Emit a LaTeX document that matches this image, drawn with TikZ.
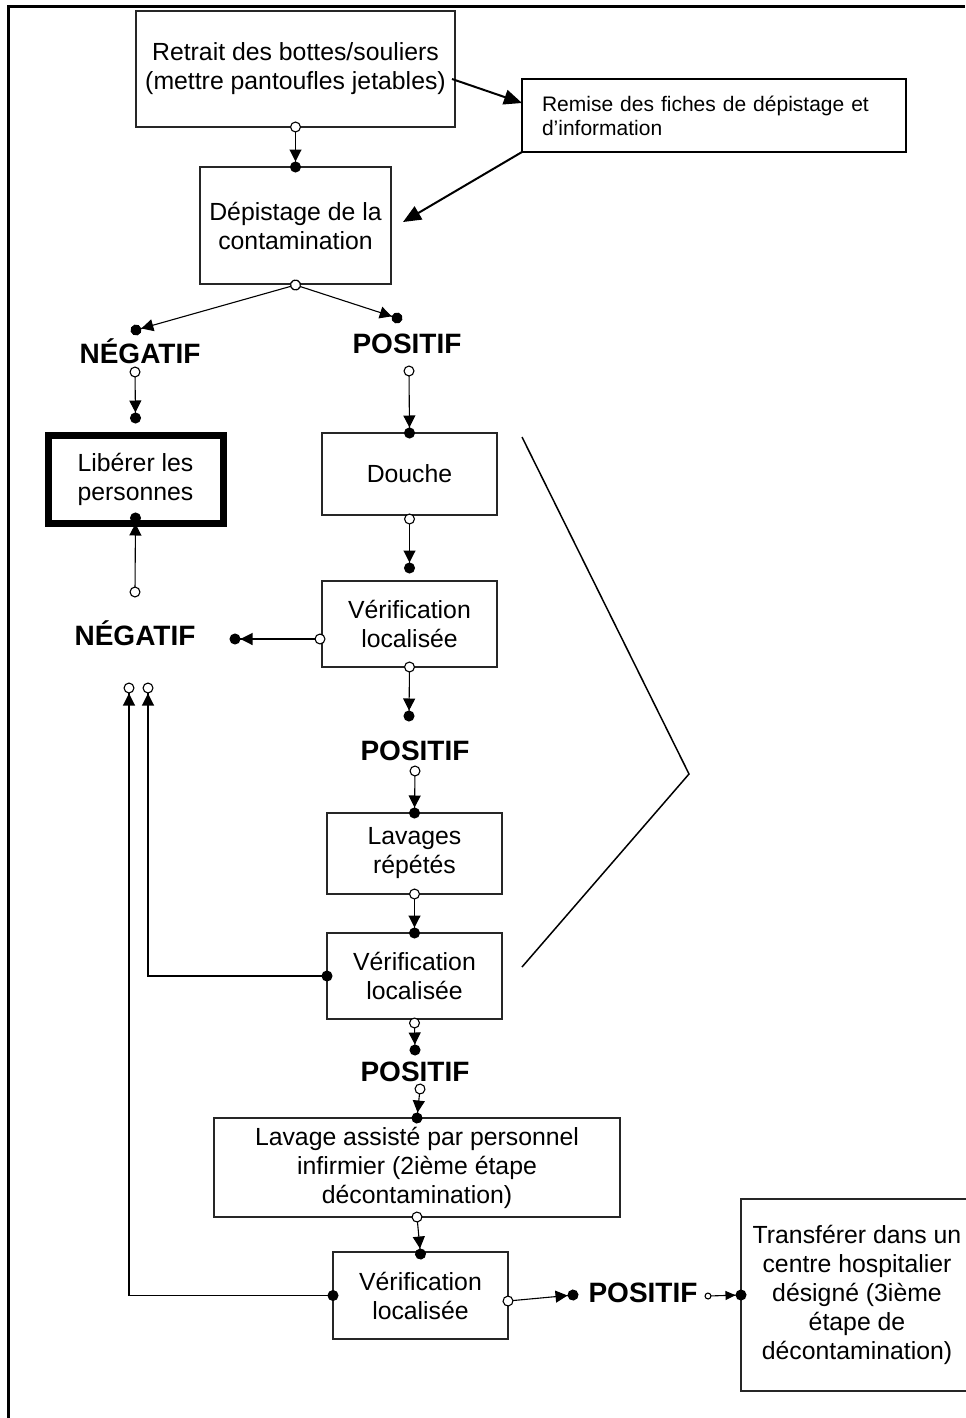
\documentclass[tikz,border=0pt]{standalone}
\usepackage{fontspec}
\setmainfont{Liberation Sans}
\usetikzlibrary{arrows.meta}

\begin{document}
\begin{tikzpicture}[
    x=0.5pt, y=-0.5pt,
    etape/.style={rectangle, draw=black!85, line width=0.7pt, fill=white, inner sep=2pt,
                  outer sep=0pt, align=center, font=\fontsize{12.4}{14.5}\selectfont},
    resultat/.style={inner sep=0pt, text height=10pt, text depth=0pt,
                     font=\bfseries\fontsize{14}{16}\selectfont},
    flux/.style={line width=0.55pt, shorten <=-2.75pt, shorten >=-2.75pt,
                 {Circle[length=5.5pt, fill=white]}-{Triangle[length=6pt, width=6pt] Circle[length=5.5pt]}},
    fluxpetit/.style={line width=0.55pt, shorten <=-1.75pt, shorten >=-2.75pt,
                 {Circle[length=3.5pt, fill=white]}-{Triangle[length=5pt, width=4.5pt] Circle[length=5.5pt]}},
    retour/.style={line width=0.55pt, shorten <=-2.75pt, shorten >=-2.75pt,
                 {Circle[length=5.5pt]}-{Triangle[length=6pt, width=6pt] Circle[length=5.5pt, fill=white]}},
    fleche/.style={line width=1pt, -{Triangle[length=9pt, width=7.5pt]}}
]
    \useasboundingbox (0,0) rectangle (965,1418);
    % cadre
    \draw[line width=1.5pt] (8,1418) -- (8,7) -- (965,7);

    % etapes
    \node[etape, minimum width=159.5pt, minimum height=58pt] (retrait) at (295.5,69)
        {Retrait des bottes/souliers\\(mettre pantoufles jetables)};
    \node[etape, draw=black, line width=1pt, minimum height=36.5pt, text width=172pt,
          inner xsep=10pt, align=left, font=\fontsize{10.5}{12}\selectfont] (remise) at (714,115.5)
        {Remise des fiches de dépistage et\\d’information};
    \node[etape, minimum width=95.5pt, minimum height=58.5pt] (depist) at (295.5,225.5)
        {Dépistage de la\\contamination};
    \node[etape, draw=black, line width=3.5pt, minimum width=87.5pt, minimum height=44pt] (liberer) at (135.5,479)
        {Libérer les\\personnes};
    \node[etape, minimum width=87.5pt, minimum height=41pt] (douche) at (409.5,474) {Douche};
    \node[etape, minimum width=87.5pt, minimum height=43pt] (verif1) at (409.5,624)
        {Vérification\\localisée};
    \node[etape, minimum width=87.5pt, minimum height=40.5pt] (lavages) at (414.5,853.5)
        {Lavages\\répétés};
    \node[etape, minimum width=87.5pt, minimum height=43pt] (verif2) at (414.5,976)
        {Vérification\\localisée};
    \node[etape, minimum width=203pt, minimum height=49.5pt] (assiste) at (417,1167.5)
        {Lavage assisté par personnel\\infirmier (2ième étape\\décontamination)};
    \node[etape, minimum width=87.5pt, minimum height=43.5pt] (verif3) at (420.5,1295.5)
        {Vérification\\localisée};
    \node[etape, minimum width=116pt, minimum height=96pt] (transfer) at (857,1295)
        {Transférer dans un\\centre hospitalier\\désigné (3ième\\étape de\\décontamination)};

    % resultats
    \node[resultat] (neg1) at (140,353) {NÉGATIF};
    \node[resultat] (pos1) at (407,343) {POSITIF};
    \node[resultat] (neg2) at (135,635) {NÉGATIF};
    \node[resultat] (pos2) at (415,750) {POSITIF};
    \node[resultat] (pos3) at (415,1071) {POSITIF};
    \node[resultat] (pos4) at (643,1292) {POSITIF};

    % points d'attache pres des resultats
    \coordinate (neg1dot) at (136,330);
    \coordinate (pos1dot) at (397,318);
    \coordinate (neg1src) at (135,372);
    \coordinate (pos1src) at (409,371);
    \coordinate (neg2src) at (135,592);
    \coordinate (neg2dot) at (235,639);
    \coordinate (pos2dot) at (409,716);
    \coordinate (pos2src) at (415,771);
    \coordinate (pos3dot) at (415,1050);
    \coordinate (pos3src) at (420,1089);
    \coordinate (pos4dot) at (573,1295);
    \coordinate (pos4src) at (708,1296);
    \coordinate (retA) at (148,688);
    \coordinate (retB) at (129,688);

    % liens
    \draw[fleche] ([xshift=-1.5pt, yshift=-5pt]retrait.east) -- ([yshift=6.25pt]remise.west);
    \draw[fleche] (remise.south west) -- ([xshift=6pt, yshift=1.75pt]depist.east);
    \draw[flux] (retrait.south) -- (depist.north);
    \draw[flux] ([yshift=-0.5pt]depist.south) -- (neg1dot);
    \draw[flux] ([yshift=-0.5pt]depist.south) -- (pos1dot);
    \draw[flux] (neg1src) -- ([yshift=8.5pt]liberer.north);
    \draw[flux] (neg2src) -- ([yshift=2.5pt]liberer.south);
    \draw[flux] (pos1src) -- (douche.north);
    \draw[flux] ([yshift=-2pt]douche.south) -- ([yshift=6.5pt]verif1.north);
    \draw[flux] ([xshift=-1pt, yshift=-7.5pt]verif1.west) -- (neg2dot);
    \draw[flux] (verif1.south) -- (pos2dot);
    \draw[flux] (pos2src) -- (lavages.north);
    \draw[flux] (lavages.south) -- (verif2.north);
    \draw[retour] (verif2.west) -| (retA);
    \draw[flux] ([yshift=-2pt]verif2.south) -- (pos3dot);
    \draw[flux] (pos3src) -- (assiste.north);
    \draw[flux] (assiste.south) -- ([yshift=-1pt]verif3.north);
    \draw[retour] (verif3.west) -| (retB);
    \draw[flux] ([yshift=-2.75pt]verif3.east) -- (pos4dot);
    \draw[fluxpetit] (pos4src) -- (transfer.west);

    % accolade
    \draw[line width=0.75pt] (522,437) -- (689,774) -- (522,967);
\end{tikzpicture}
\end{document}
